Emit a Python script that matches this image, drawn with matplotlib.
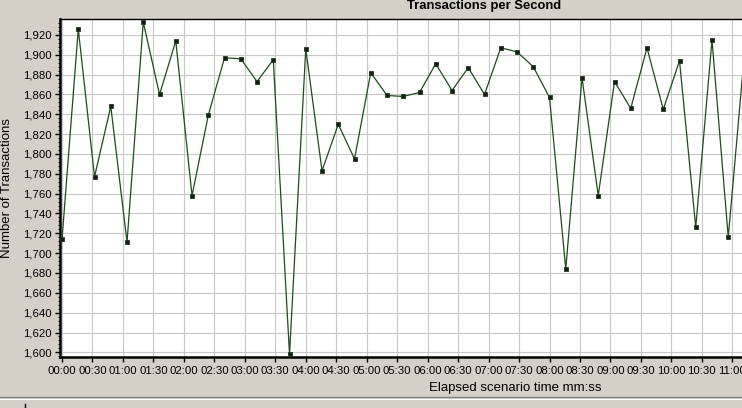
import matplotlib
matplotlib.use('Agg')
import matplotlib.pyplot as plt
from matplotlib.lines import Line2D

# elapsed seconds of each sample and transactions per second
seconds = [0, 16, 32, 48, 64, 80, 96, 112, 128, 144, 160, 176, 192, 208,
           224, 240, 256, 272, 288, 304, 320, 336, 352, 368, 384, 400, 416,
           432, 448, 464, 480, 496, 512, 528, 544, 560, 576, 592, 608, 624,
           640, 656, 672]
tps = [1714, 1926, 1777, 1848, 1711, 1933, 1860, 1914, 1758, 1839, 1897,
       1896, 1873, 1895, 1598, 1906, 1783, 1830, 1795, 1882, 1859, 1858,
       1862, 1891, 1864, 1887, 1860, 1907, 1903, 1888, 1857, 1684, 1877,
       1758, 1873, 1846, 1907, 1845, 1894, 1726, 1915, 1716, 1902]

x_ticks = [0, 30, 60, 90, 120, 150, 180, 210, 240, 270, 300, 330, 360,
           390, 420, 450, 480, 510, 540, 570, 600, 630, 660]
x_labels = ['00:00', '00:30', '01:00', '01:30', '02:00', '02:30', '03:00',
            '03:30', '04:00', '04:30', '05:00', '05:30', '06:00', '06:30',
            '07:00', '07:30', '08:00', '08:30', '09:00', '09:30', '10:00',
            '10:30', '11:00']
y_ticks = list(range(1600, 1921, 20))

plt.rcParams['font.family'] = ['Liberation Sans', 'DejaVu Sans']
bg = '#d4d0c8'

fig = plt.figure(figsize=(7.42, 4.08), dpi=100, facecolor=bg)
ax = fig.add_axes([60/742, 1 - 357/408, 1 - 60/742 + 0.002, (357 - 19)/408])
ax.set_facecolor('white')

ax.plot(seconds, tps, color='#1e4a1e', lw=0.9, marker='s', ms=3.4,
        mfc='#1a1a1a', mec='#1e3a1e', mew=0.6, clip_on=False, zorder=3)

ax.set_xlim(-2, 671)
ax.set_ylim(1595.3, 1936.1)
ax.set_xticks(x_ticks)
ax.set_xticklabels(x_labels)
ax.set_yticks(y_ticks)
ax.set_yticklabels(['{:,}'.format(v) for v in y_ticks])
ax.set_yticks(range(1596, 1936, 4), minor=True)

ax.grid(True, color='#c8c8c8', lw=0.8)
ax.set_axisbelow(True)

ax.tick_params(axis='both', which='major', labelsize=8.2, length=3.6,
               width=1, pad=2.5, colors='black')
ax.tick_params(axis='y', which='minor', length=1.6, width=0.8)
ax.tick_params(axis='x', pad=3)

ax.spines['left'].set_linewidth(1.8)
ax.spines['bottom'].set_linewidth(1.8)
ax.spines['top'].set_linewidth(1.0)
ax.spines['right'].set_visible(False)

fig.text(484/742, 1 - 9/408, 'Transactions per Second', ha='center',
         va='baseline', fontsize=9.4, fontweight='bold')
fig.text(7/742, 1 - 188/408, 'Number of Transactions', rotation=90,
         ha='center', va='center', fontsize=9.5)
fig.text(515/742, 1 - 391/408, 'Elapsed scenario time mm:ss', ha='center',
         va='baseline', fontsize=9.5)

# window separator at the bottom
fig.add_artist(Line2D([0, 1], [1 - 397/408, 1 - 397/408], color='#808080',
                      lw=1, transform=fig.transFigure))
fig.add_artist(Line2D([0, 1], [1 - 398.5/408, 1 - 398.5/408], color='white',
                      lw=0.8, transform=fig.transFigure))
fig.add_artist(Line2D([25/742, 25/742], [0, 1 - 404/408], color='black',
                      lw=1, transform=fig.transFigure))

fig.savefig('out.png', dpi=100, facecolor=bg)
